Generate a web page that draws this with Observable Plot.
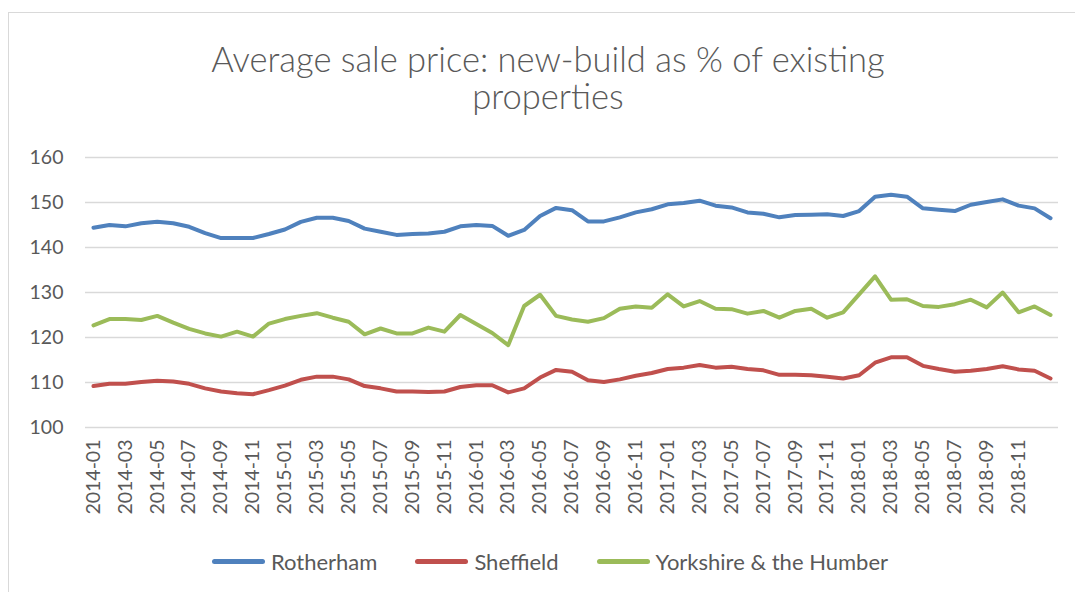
<!DOCTYPE html>
<html>
<head>
<meta charset="utf-8">
<script src="https://cdn.jsdelivr.net/npm/d3@7"></script>
<script src="https://cdn.jsdelivr.net/npm/@observablehq/plot@0.6"></script>
<style>
  html, body { margin: 0; padding: 0; background: #fff; }
  body { width: 1075px; height: 592px; position: relative; overflow: hidden; font-family: Lato, "Open Sans", sans-serif; color: #595959; }
  #frame { position: absolute; left: 8px; top: 12px; width: 1080px; height: 600px; border: 1px solid #d9d9d9; box-sizing: border-box; }
  #title { position: absolute; left: 0; top: 40px; width: 1096px; text-align: center; font-size: 34.5px; font-weight: 300; line-height: 37px; color: #595959; }
  #chart { position: absolute; left: 0; top: 140px; }
  #legend { position: absolute; left: 0; top: 548px; width: 1100px; display: flex; justify-content: center; align-items: center; gap: 38px; font-size: 22px; color: #595959; }
  .item { display: flex; align-items: center; }
  .sw { width: 53px; height: 4.5px; border-radius: 2.5px; margin-right: 6px; }
</style>
</head>
<body>
<div id="frame"></div>
<div id="title">Average sale price: new-build as % of existing<br>properties</div>
<div id="chart"></div>
<div id="legend"></div>
<script>
const months = [
  "2014-01","2014-02","2014-03","2014-04","2014-05","2014-06","2014-07","2014-08","2014-09","2014-10","2014-11","2014-12",
  "2015-01","2015-02","2015-03","2015-04","2015-05","2015-06","2015-07","2015-08","2015-09","2015-10","2015-11","2015-12",
  "2016-01","2016-02","2016-03","2016-04","2016-05","2016-06","2016-07","2016-08","2016-09","2016-10","2016-11","2016-12",
  "2017-01","2017-02","2017-03","2017-04","2017-05","2017-06","2017-07","2017-08","2017-09","2017-10","2017-11","2017-12",
  "2018-01","2018-02","2018-03","2018-04","2018-05","2018-06","2018-07","2018-08","2018-09","2018-10","2018-11","2018-12",
  "2019-01"
];
const xTickLabels = [
  "2014-01","2014-03","2014-05","2014-07","2014-09","2014-11",
  "2015-01","2015-03","2015-05","2015-07","2015-09","2015-11",
  "2016-01","2016-03","2016-05","2016-07","2016-09","2016-11",
  "2017-01","2017-03","2017-05","2017-07","2017-09","2017-11",
  "2018-01","2018-03","2018-05","2018-07","2018-09","2018-11"
];
const yTicks = [100, 110, 120, 130, 140, 150, 160];
const seriesNames = ["Rotherham", "Sheffield", "Yorkshire & the Humber"];
const seriesColors = ["#4f81bd", "#c0504d", "#9bbb59"];

const rotherham = [
  144.4, 145.0, 144.7, 145.4, 145.7, 145.4, 144.6, 143.2, 142.1, 142.1, 142.1, 143.0,
  144.0, 145.7, 146.6, 146.6, 145.9, 144.2, 143.5, 142.8, 143.0, 143.1, 143.5, 144.7,
  145.0, 144.8, 142.6, 143.9, 147.0, 148.8, 148.3, 145.8, 145.8, 146.7, 147.8, 148.5,
  149.6, 149.9, 150.4, 149.3, 148.9, 147.8, 147.5, 146.7, 147.2, 147.3, 147.4, 147.0,
  148.1, 151.3, 151.7, 151.3, 148.7, 148.4, 148.1, 149.5, 150.1, 150.7, 149.3, 148.7,
  146.5
];
const sheffield = [
  109.2, 109.7, 109.7, 110.1, 110.4, 110.2, 109.7, 108.7, 108.0, 107.6, 107.4, 108.3,
  109.3, 110.6, 111.3, 111.3, 110.7, 109.2, 108.7, 108.0, 108.0, 107.9, 108.0, 109.0,
  109.4, 109.4, 107.8, 108.7, 111.1, 112.8, 112.4, 110.5, 110.1, 110.7, 111.5, 112.1,
  113.0, 113.3, 113.9, 113.3, 113.5, 113.0, 112.7, 111.7, 111.7, 111.6, 111.3, 110.9,
  111.6, 114.4, 115.6, 115.6, 113.7, 113.0, 112.4, 112.6, 113.0, 113.6, 112.9, 112.6,
  110.9
];
const yorkshire = [
  122.7, 124.1, 124.1, 123.9, 124.8, 123.3, 121.9, 120.9, 120.2, 121.3, 120.2, 123.1,
  124.1, 124.8, 125.4, 124.4, 123.5, 120.7, 122.0, 120.9, 120.9, 122.2, 121.3, 125.0,
  123.0, 121.0, 118.3, 127.0, 129.5, 124.8, 124.0, 123.5, 124.3, 126.4, 126.9, 126.6,
  129.6, 126.9, 128.1, 126.4, 126.3, 125.3, 125.9, 124.4, 125.9, 126.4, 124.4, 125.6,
  129.6, 133.6, 128.4, 128.5, 127.0, 126.8, 127.4, 128.4, 126.7, 130.0, 125.6, 126.9,
  125.0
];

const seriesValues = [rotherham, sheffield, yorkshire];
const data = seriesNames.flatMap((name, s) =>
  months.map((m, i) => ({ month: m, series: name, value: seriesValues[s][i] }))
);

const chart = Plot.plot({
  width: 1075,
  height: 390,
  marginLeft: 85,
  marginRight: 17,
  marginTop: 17,
  marginBottom: 103,
  style: { fontFamily: "Lato, 'Open Sans', sans-serif", fontSize: "19.5px", color: "#595959", background: "transparent", overflow: "visible" },
  x: { type: "point", domain: months, padding: 0.5, ticks: xTickLabels, tickRotate: -90, tickSize: 0, tickPadding: 12, label: null },
  y: { domain: [100, 160], ticks: yTicks, tickSize: 0, tickPadding: 22, label: null },
  color: { domain: seriesNames, range: seriesColors },
  marks: [
    Plot.ruleY(yTicks, { stroke: "#d9d9d9", strokeWidth: 1.5 }),
    Plot.line(data, { x: "month", y: "value", z: "series", stroke: "series", strokeWidth: 4, strokeLinecap: "round", strokeLinejoin: "round" })
  ]
});
document.getElementById("chart").appendChild(chart);

const legend = document.getElementById("legend");
seriesNames.forEach((name, i) => {
  const item = document.createElement("div");
  item.className = "item";
  const sw = document.createElement("div");
  sw.className = "sw";
  sw.style.background = seriesColors[i];
  const label = document.createElement("span");
  label.textContent = name;
  item.appendChild(sw);
  item.appendChild(label);
  legend.appendChild(item);
});
</script>
</body>
</html>
